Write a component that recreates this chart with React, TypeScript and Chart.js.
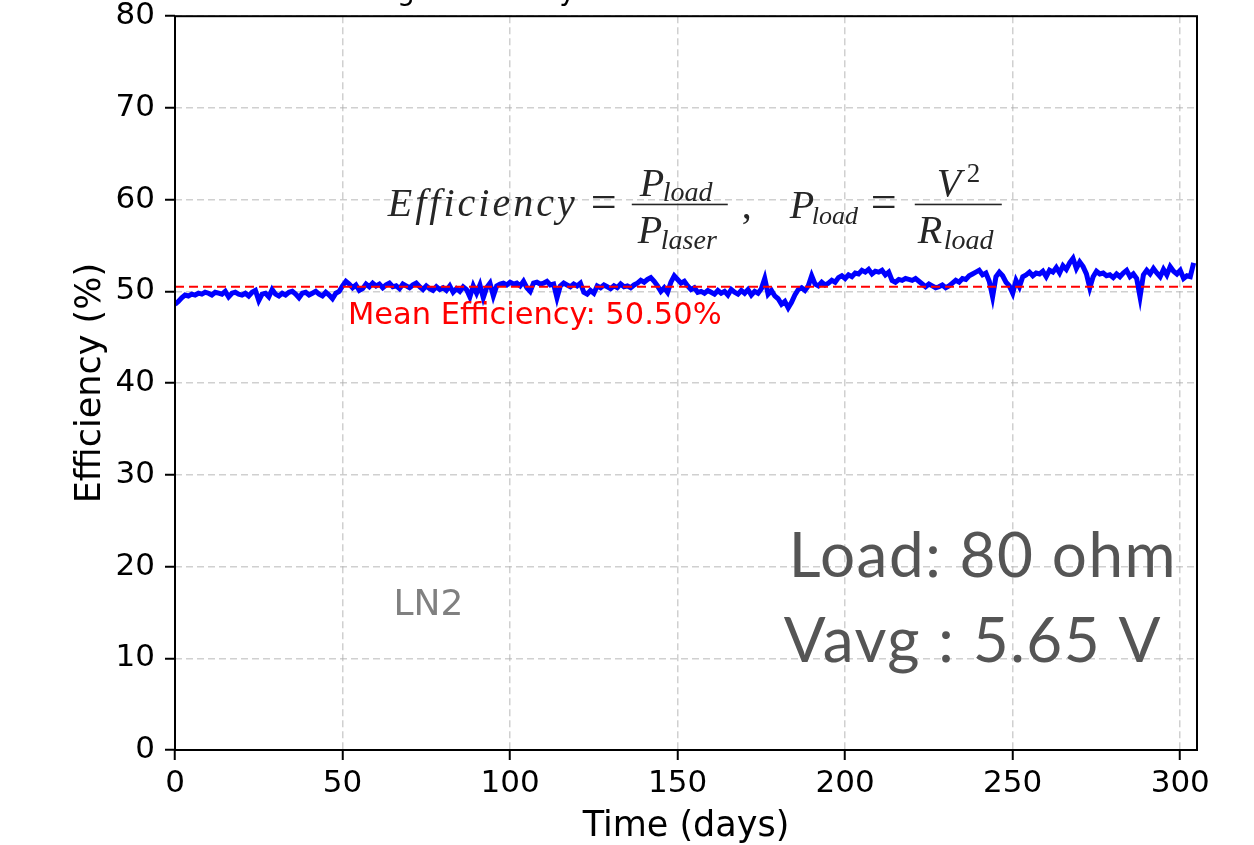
import React, { useEffect, useRef } from "react";
import { Chart, registerables } from "chart.js";

Chart.register(...registerables);

// ---- data ----
const X_MIN = 0;
const X_MAX = 305;
const X_STEP = 50;
const Y_MIN = 0;
const Y_MAX = 80;
const Y_STEP = 10;

// daily efficiency (%) for days 0..304
const EFFICIENCY = [
  48.6, 48.9, 49.3, 49.6, 49.5, 49.7, 49.6, 49.8, 49.7, 49.9,
  49.8, 49.6, 49.9, 49.8, 49.7, 50.0, 49.4, 49.8, 49.9, 49.7,
  49.6, 49.8, 49.5, 49.9, 50.1, 49.0, 49.7, 49.8, 49.4, 50.2,
  49.7, 49.5, 49.8, 49.6, 49.9, 50.0, 49.7, 49.3, 49.8, 49.9,
  49.6, 49.8, 50.0, 49.7, 49.5, 49.9, 49.6, 49.2, 49.8, 50.0,
  50.6, 51.1, 50.8, 50.4, 50.7, 50.1, 50.3, 50.8, 50.5, 50.9,
  50.6, 50.8, 50.4, 50.7, 50.9, 50.5, 50.6, 50.3, 50.8, 50.6,
  50.4, 50.7, 50.9, 50.5, 50.2, 50.6, 50.3, 50.1, 50.5, 50.2,
  50.4, 50.1, 50.6, 49.9, 50.3, 50.0, 50.5, 50.2, 49.4, 50.6,
  49.8, 50.7, 49.3, 50.4, 50.9, 49.5, 50.6, 50.8, 50.9, 50.7,
  51.0, 50.8, 50.9, 50.6, 51.1, 50.4, 50.0, 50.9, 51.0, 50.8,
  50.9, 51.1, 50.7, 50.8, 49.3, 50.6, 50.9, 50.7, 50.5, 50.8,
  50.6, 50.9, 49.9, 49.7, 50.1, 49.8, 50.6, 50.4, 50.7, 50.5,
  50.3, 50.6, 50.4, 50.8, 50.5, 50.6, 50.4, 50.7, 50.9, 51.2,
  51.0, 51.3, 51.5, 51.1, 50.6, 50.0, 50.4, 49.9, 51.0, 51.7,
  51.3, 50.9, 51.1, 50.6, 50.2, 50.4, 49.9, 50.0, 49.8, 50.1,
  49.9, 49.7, 50.1, 49.8, 50.0, 49.6, 50.2, 49.9, 49.7, 50.1,
  49.8, 50.2, 49.6, 50.0, 49.8, 50.3, 51.4, 49.7, 50.1, 49.5,
  49.2, 48.6, 48.9, 48.2, 48.8, 49.6, 50.2, 50.4, 50.1, 50.6,
  51.7, 50.8, 50.6, 51.0, 50.7, 50.9, 51.2, 51.0, 51.5, 51.7,
  51.4, 51.8, 51.6, 52.0, 51.9, 52.3, 52.1, 52.4, 51.9, 52.2,
  52.1, 52.3, 51.8, 52.1, 51.2, 51.0, 51.3, 51.2, 51.4, 51.3,
  51.2, 51.4, 51.1, 50.8, 50.5, 50.8, 50.6, 50.4, 50.5, 50.7,
  50.4, 50.6, 50.9, 51.2, 51.0, 51.4, 51.3, 51.7, 51.9, 52.1,
  52.3, 51.8, 52.0, 51.1, 49.4, 51.6, 52.1, 51.7, 51.0, 50.6,
  49.8, 51.2, 50.5, 51.6, 51.8, 52.1, 51.7, 52.0, 51.9, 52.2,
  51.6, 52.3, 52.1, 52.6, 52.0, 52.8, 52.4, 53.1, 53.6, 52.5,
  53.2, 52.7, 51.9, 50.4, 51.6, 52.2, 51.9, 52.0, 51.7, 51.8,
  51.5, 51.9, 51.6, 52.0, 52.3, 51.6, 51.9, 51.4, 49.4, 51.8,
  52.3, 51.9, 52.5, 52.0, 51.6, 52.4, 51.8, 52.7, 52.2, 51.9,
  52.3, 51.4, 51.7, 51.6, 53.1,
];

const MEAN_EFFICIENCY = 50.5;
const MEAN_LABEL = "Mean Efficiency: 50.50%";
const LOAD_LINES = ["Load: 80 ohm", "Vavg : 5.65 V"];
const CONDITION_LABEL = "LN2";
const TITLE = "Average Efficiency Over Time";
const X_TITLE = "Time (days)";
const Y_TITLE = "Efficiency (%)";

// annotation anchors in data coordinates
const MEAN_LABEL_AT = { x: 51.6, y: 46.45 };
const FORMULA_AT = { x: 63.5, y: 58.2 };
const CONDITION_AT = { x: 65.2, y: 14.7 };
const LOAD_AT = { x: 183.2, y: 18.85 };

const SANS = '"DejaVu Sans", sans-serif';
const SERIF = '"Liberation Serif", "DejaVu Serif", serif';

const annotationPlugin = {
  id: "annotations",
  afterDraw(chart: any) {
    const ctx: CanvasRenderingContext2D = chart.ctx;
    const xs = chart.scales.x;
    const ys = chart.scales.y;
    const area = chart.chartArea;
    ctx.save();

    // frame (spines)
    ctx.strokeStyle = "#000";
    ctx.lineWidth = 2;
    ctx.setLineDash([]);
    ctx.strokeRect(area.left, area.top, area.right - area.left, area.bottom - area.top);

    // mean label
    ctx.fillStyle = "#ff0000";
    ctx.font = `30.5px ${SANS}`;
    ctx.textAlign = "left";
    ctx.textBaseline = "alphabetic";
    ctx.fillText(MEAN_LABEL, xs.getPixelForValue(MEAN_LABEL_AT.x), ys.getPixelForValue(MEAN_LABEL_AT.y));

    // formula
    const fx = xs.getPixelForValue(FORMULA_AT.x);
    const fy = ys.getPixelForValue(FORMULA_AT.y);
    ctx.fillStyle = "#262626";
    const it = (s: number) => `italic ${s}px ${SERIF}`;
    const up = (s: number) => `${s}px ${SERIF}`;
    const put = (t: string, font: string, dx: number, dy: number, align: CanvasTextAlign = "left", spacing = "0px") => {
      ctx.font = font;
      (ctx as any).letterSpacing = spacing;
      ctx.textAlign = align;
      ctx.fillText(t, fx + dx, fy + dy);
    };
    put("Efficiency", it(40), 0, 0, "left", "3px");
    put("=", up(46), 216, 1, "center");
    ctx.fillRect(fx + 244, fy - 12.5, 96, 1.6);
    put("P", it(40), 252, -20);
    put("load", it(28), 275, -15);
    put("P", it(40), 250, 27);
    put("laser", it(28), 273, 33);
    put(",", up(40), 354, 2);
    put("P", it(40), 402, 2);
    put("load", it(26), 424, 8);
    put("=", up(46), 496, 1, "center");
    ctx.fillRect(fx + 527, fy - 12.5, 87, 1.6);
    put("V", it(40), 549, -20);
    put("2", up(27), 579, -34);
    put("R", it(40), 530, 27);
    put("load", it(28), 556, 33);
    (ctx as any).letterSpacing = "0px";

    // condition label
    ctx.fillStyle = "#808080";
    ctx.font = `36px ${SANS}`;
    ctx.textAlign = "left";
    ctx.fillText(CONDITION_LABEL, xs.getPixelForValue(CONDITION_AT.x), ys.getPixelForValue(CONDITION_AT.y));

    // load / voltage text
    ctx.fillStyle = "#555555";
    ctx.font = `400 62px Lato, "Open Sans", sans-serif`;
    (ctx as any).letterSpacing = "1.5px";
    const lx = xs.getPixelForValue(LOAD_AT.x);
    const ly = ys.getPixelForValue(LOAD_AT.y);
    ctx.fillText(LOAD_LINES[0], lx, ly);
    ctx.fillText(LOAD_LINES[1], lx - 5, ly + 85);
    (ctx as any).letterSpacing = "0px";

    // title (cut off at top of the figure)
    ctx.fillStyle = "#000";
    ctx.font = `28px ${SANS}`;
    const pre = ctx.measureText("Avera").width;
    const g = ctx.measureText("g").width;
    ctx.textAlign = "left";
    ctx.fillText(TITLE, 406 - pre - g / 2, 0);

    ctx.restore();
  },
};

export default function App() {
  const ref = useRef<HTMLCanvasElement | null>(null);

  useEffect(() => {
    if (!ref.current) return;
    const points = EFFICIENCY.map((v, i) => ({ x: i, y: v }));
    const meanLine = [
      { x: X_MIN, y: MEAN_EFFICIENCY },
      { x: X_MAX, y: MEAN_EFFICIENCY },
    ];
    const gridColor = "rgba(170,170,170,0.55)";
    const chart = new Chart(ref.current, {
      type: "line",
      data: {
        datasets: [
          {
            data: points,
            borderColor: "#0000ff",
            borderWidth: 5,
            pointRadius: 0,
            tension: 0,
            order: 2,
          },
          {
            data: meanLine,
            borderColor: "#ff0000",
            borderWidth: 2,
            borderDash: [9, 5],
            pointRadius: 0,
            order: 1,
          },
        ],
      },
      options: {
        responsive: false,
        animation: false,
        devicePixelRatio: 1,
        layout: { padding: { left: 70, right: 57, top: 16, bottom: 0 } },
        plugins: {
          legend: { display: false },
          tooltip: { enabled: false },
          title: { display: false },
        },
        scales: {
          x: {
            type: "linear",
            min: X_MIN,
            max: X_MAX,
            afterFit: (s: any) => {
              s.height = 95;
            },
            ticks: {
              stepSize: X_STEP,
              includeBounds: false,
              color: "#000",
              font: { family: SANS, size: 31, lineHeight: 1 },
              padding: 8,
              maxRotation: 0,
            },
            grid: {
              color: gridColor,
              lineWidth: 1.5,
              drawTicks: true,
              tickLength: 10,
              tickColor: "#000",
              tickWidth: 2,
              tickBorderDash: [],
            },
            border: { display: false, dash: [7, 4] },
            title: {
              display: true,
              text: X_TITLE,
              color: "#000",
              font: { family: SANS, size: 35, lineHeight: 1 },
              padding: { top: 0, bottom: 1 },
            },
          },
          y: {
            min: Y_MIN,
            max: Y_MAX,
            afterFit: (s: any) => {
              s.width = 105;
            },
            ticks: {
              stepSize: Y_STEP,
              color: "#000",
              font: { family: SANS, size: 31, lineHeight: 0.4 },
              padding: 10,
            },
            grid: {
              color: gridColor,
              lineWidth: 1.5,
              drawTicks: true,
              tickLength: 10,
              tickColor: "#000",
              tickWidth: 2,
              tickBorderDash: [],
            },
            border: { display: false, dash: [7, 4] },
            title: {
              display: true,
              text: Y_TITLE,
              color: "#000",
              font: { family: SANS, size: 35, lineHeight: 1.2 },
              padding: { top: 0, bottom: 0 },
            },
          },
        },
      },
      plugins: [annotationPlugin],
    });
    return () => chart.destroy();
  }, []);

  return (
    <div style={{ position: "absolute", left: 0, top: 0, width: 1254, height: 845, background: "#fff" }}>
      <canvas ref={ref} width={1254} height={845} />
    </div>
  );
}
